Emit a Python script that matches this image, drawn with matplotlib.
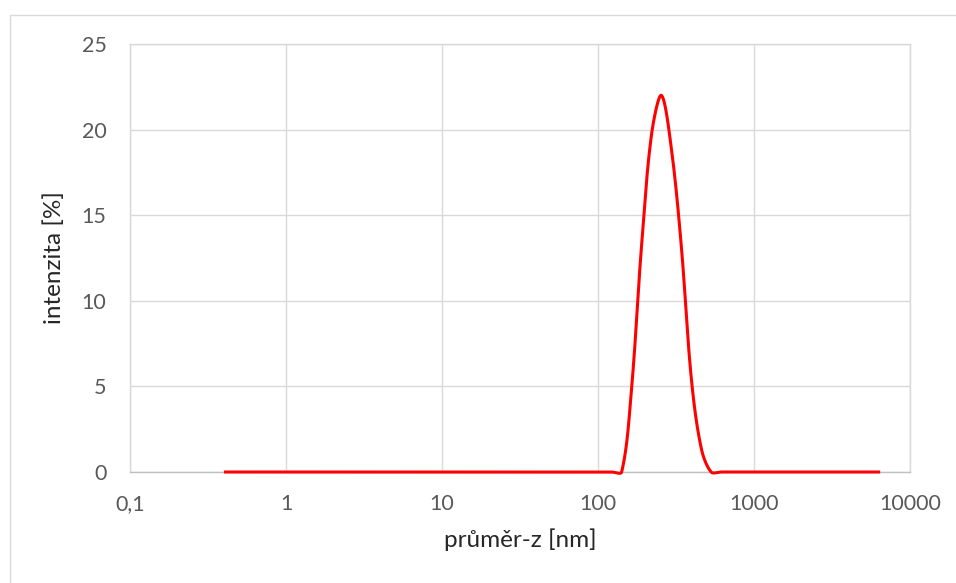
import numpy as np
import matplotlib
matplotlib.use("Agg")
import matplotlib.pyplot as plt
from matplotlib.patches import Rectangle

# Size bins (nm) and intensity (%)
size_nm = [0.4, 0.4632, 0.5365, 0.6213, 0.7195, 0.8332, 0.9649, 1.117, 1.294, 1.499,
           1.736, 2.010, 2.328, 2.696, 3.122, 3.615, 4.187, 4.849, 5.615, 6.503,
           7.531, 8.721, 10.10, 11.70, 13.54, 15.69, 18.17, 21.04, 24.36, 28.21,
           32.67, 37.84, 43.82, 50.75, 58.77, 68.06, 78.82, 91.28, 105.7, 122.4,
           141.8, 164.2, 190.1, 220.2, 255.0, 295.3, 342.0, 396.1, 458.7, 531.2,
           615.1, 712.4, 825.0, 955.4, 1106, 1281, 1484, 1718, 1990, 2305,
           2669, 3091, 3580, 4145, 4801, 5560, 6439]
intensity = [0.0] * 41 + [4.9, 13.2, 19.7, 22.0, 18.9, 13.2, 5.5, 1.4, 0.0] + [0.0] * 17

x_ticks = [0.1, 1, 10, 100, 1000, 10000]
x_tick_labels = ["0,1", "1", "10", "100", "1000", "10000"]
y_ticks = [0, 5, 10, 15, 20, 25]

PX_PER_DECADE = 156.0
PX_PER_UNIT = 428.0 / 25.0


def smooth(xs, ys, n=40):
    # Excel-style smoothed line: Bezier segments with chord-length weighted
    # control points, computed in screen-proportional space
    lx = np.log10(np.asarray(xs, float)) * PX_PER_DECADE
    y = np.asarray(ys, float) * PX_PER_UNIT
    P = np.column_stack([lx, y])
    P = np.vstack([P[0], P, P[-1]])
    d = np.hypot(*(np.diff(P, axis=0).T))
    out = []
    t = np.linspace(0, 1, n, endpoint=False)[:, None]
    for i in range(1, len(P) - 2):
        p0, p1, p2, p3 = P[i - 1], P[i], P[i + 1], P[i + 2]
        d01, d12, d23 = d[i - 1], d[i], d[i + 1]
        f1 = d12 / (d01 + d12) if (d01 + d12) > 0 else 0.5
        f2 = d12 / (d12 + d23) if (d12 + d23) > 0 else 0.5
        c1 = p1 + (p2 - p0) * f1 / 3
        c2 = p2 - (p3 - p1) * f2 / 3
        seg = ((1 - t) ** 3) * p1 + 3 * ((1 - t) ** 2) * t * c1 + 3 * (1 - t) * t ** 2 * c2 + t ** 3 * p2
        out.append(seg)
    out.append(P[-2][None, :])
    out = np.vstack(out)
    return 10 ** (out[:, 0] / PX_PER_DECADE), out[:, 1] / PX_PER_UNIT


plt.rcParams['font.family'] = ['Lato', 'DejaVu Sans']

fig = plt.figure(figsize=(9.56, 5.83), dpi=100)
W, H = 956, 583
# outer chart border (right and bottom edges fall outside the image)
fig.patches.append(Rectangle((9.5 / W, -0.2), 1.2, 1.2 - 14.5 / H, transform=fig.transFigure,
                             fill=False, edgecolor="#d9d9d9", linewidth=1.0))

ax = fig.add_axes([130 / W, (H - 472) / H, 780 / W, 428 / H])
sx, sy = smooth(size_nm, intensity)
ax.plot(sx, sy, color="#ff0000", linewidth=2.2, solid_capstyle="butt", zorder=3, clip_on=False)

ax.set_xscale("log")
ax.set_xlim(0.1, 10000)
ax.set_ylim(0, 25)
ax.set_xticks(x_ticks)
ax.set_xticklabels(x_tick_labels)
ax.set_yticks(y_ticks)
ax.xaxis.set_minor_locator(matplotlib.ticker.NullLocator())
ax.grid(True, color="#d9d9d9", linewidth=1.0)
ax.set_axisbelow(True)
for s in ["left", "right", "top"]:
    ax.spines[s].set_color("#d9d9d9")
    ax.spines[s].set_linewidth(1.0)
ax.spines["bottom"].set_color("#bfbfbf")
ax.spines["bottom"].set_linewidth(1.0)
ax.tick_params(axis="both", length=0, labelsize=15.5, labelcolor="#595959")
ax.tick_params(axis="x", pad=16)
ax.tick_params(axis="y", pad=17)

ax.set_xlabel("průměr-z [nm]", fontsize=17.5, color="#262626", labelpad=10)
ax.set_ylabel("intenzita [%]", fontsize=17.5, color="#262626", labelpad=12)

fig.savefig("out.png", dpi=100)
